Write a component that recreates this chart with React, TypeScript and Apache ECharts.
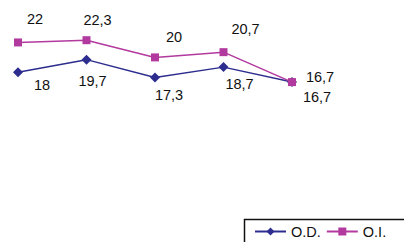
import React, { useEffect, useRef } from "react";
import * as echarts from "echarts";

const categories = ["1", "2", "3", "4", "5"];
const odValues = [18, 19.7, 17.3, 18.7, 16.7];
const oiValues = [22, 22.3, 20, 20.7, 16.7];
const odLabelOffsets = [[24, 13], [6, 21], [14, 17], [16, 17], [25, 15]];
const oiLabelOffsets = [[17, -23], [11, -20], [19, -20], [22, -23], [28, -5]];

const fmt = (v: number) => String(v).replace(".", ",");
const FONT = "Liberation Sans, Arial, sans-serif";

export default function App() {
  const ref = useRef<HTMLDivElement>(null);
  useEffect(() => {
    if (!ref.current) return;
    const chart = echarts.init(ref.current, null, { renderer: "svg" });
    const mk = (vals: number[], offs: number[][]) =>
      vals.map((v, i) => ({
        value: v,
        label: {
          show: true,
          position: "inside",
          offset: offs[i],
          formatter: fmt(v),
        },
      }));
    chart.setOption({
      animation: false,
      backgroundColor: "#ffffff",
      grid: { left: 18, right: 112, top: 20, bottom: 35 },
      xAxis: {
        type: "category",
        data: categories,
        boundaryGap: false,
        show: false,
      },
      yAxis: { type: "value", min: 0, max: 25, show: false },
      graphic: [
        {
          type: "rect",
          shape: { x: 244.5, y: 219.5, width: 200, height: 40 },
          style: { fill: "none", stroke: "#111111", lineWidth: 1.5 },
          silent: true,
        },
      ],
      legend: {
        left: 254,
        top: 224,
        padding: 0,
        orient: "horizontal",
        width: 200,
        itemWidth: 31,
        itemHeight: 10,
        itemGap: 5,
        textStyle: { fontFamily: FONT, fontSize: 14.5, color: "#111111" },
        data: ["O.D.", "O.I."],
      },
      series: [
        {
          name: "O.D.",
          type: "line",
          data: mk(odValues, odLabelOffsets),
          symbol: "diamond",
          symbolSize: 10,
          lineStyle: { color: "#2d2d90", width: 1.5 },
          itemStyle: { color: "#2d2d90" },
          label: { color: "#111111", fontSize: 14.5, fontFamily: FONT },
        },
        {
          name: "O.I.",
          type: "line",
          data: mk(oiValues, oiLabelOffsets),
          symbol: "rect",
          symbolSize: 8,
          lineStyle: { color: "#b23a9f", width: 1.5 },
          itemStyle: { color: "#b23a9f" },
          label: { color: "#111111", fontSize: 14.5, fontFamily: FONT },
        },
      ],
    });
    return () => chart.dispose();
  }, []);
  return (
    <div
      ref={ref}
      style={{ position: "fixed", left: 0, top: 0, width: 404, height: 242 }}
    />
  );
}
